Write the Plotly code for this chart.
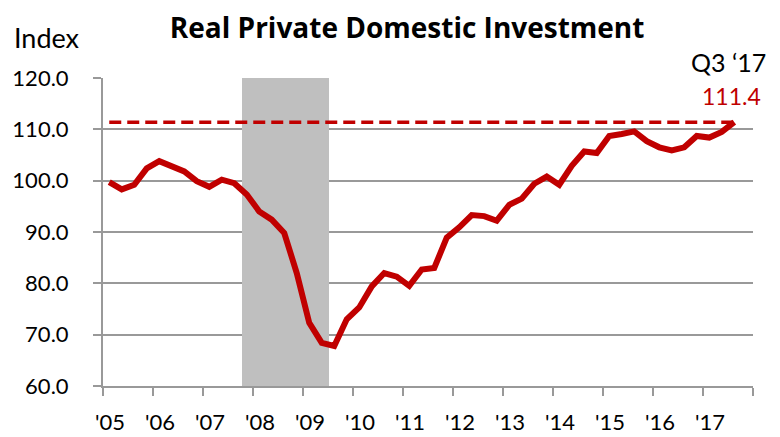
import plotly.graph_objects as go

# Quarterly index values, 2005 Q1 .. 2017 Q3
years = list(range(2005, 2018))
values = [
    99.7, 98.3, 99.2, 102.4,    # 2005
    103.8, 102.9, 101.8, 99.9,  # 2006
    98.8, 100.2, 99.5, 97.3,    # 2007
    94.0, 92.4, 89.8, 82.0,     # 2008
    72.3, 68.4, 67.8, 73.0,     # 2009
    75.3, 79.4, 82.0, 81.3,     # 2010
    79.5, 82.7, 83.0, 88.9,     # 2011
    90.9, 93.3, 93.1, 92.2,     # 2012
    95.3, 96.5, 99.4, 100.8,    # 2013
    99.2, 102.9, 105.7, 105.4,  # 2014
    108.7, 109.1, 109.6, 107.7, # 2015
    106.5, 105.9, 106.5, 108.7, # 2016
    108.4, 109.5, 111.4,        # 2017
]
quarters = [(y, q) for y in years for q in range(1, 5)][: len(values)]
x_pos = [y + (q - 0.5) / 4 for y, q in quarters]

recession = (2007.78, 2009.52)
tick_years = list(range(2005, 2019))
tick_text = ["'" + str(y)[2:] for y in years] + [""]
y_ticks = [60, 70, 80, 90, 100, 110, 120]

latest_label = "Q3 \u201817"
latest_value = values[-1]

RED = "#C00000"
GRID = "#999999"
FONT = "Lato"

fig = go.Figure()

fig.add_shape(type="rect", xref="x", yref="y",
              x0=recession[0], x1=recession[1], y0=60, y1=120,
              fillcolor="#BFBFBF", line_width=0, layer="between")

fig.add_trace(go.Scatter(
    x=[x_pos[0], x_pos[-1]], y=[latest_value, latest_value],
    mode="lines", line=dict(color=RED, width=3.5, dash="12px,6px"),
    hoverinfo="skip", showlegend=False))

fig.add_trace(go.Scatter(
    x=x_pos, y=values, mode="lines",
    line=dict(color=RED, width=6), showlegend=False))

# The page body has an 8px margin, so the figure is sized 8px smaller.
fig.update_layout(
    width=772, height=429,
    margin=dict(l=95, r=27, t=70, b=51, autoexpand=False),
    paper_bgcolor="white", plot_bgcolor="white",
    font=dict(family=FONT, size=22, color="#000000"),
    title=dict(text="<b>Real Private Domestic Investment</b>",
               x=0.517, xanchor="center", y=0.953, yanchor="middle",
               font=dict(family="Open Sans", size=28, color="#000000")),
    showlegend=False,
)

fig.update_xaxes(
    range=[2005, 2018], tickmode="array", tickvals=tick_years, ticktext=tick_text,
    ticks="outside", ticklen=8, tickwidth=2, tickcolor=GRID,
    showline=True, linecolor=GRID, linewidth=2,
    showgrid=False, zeroline=False, ticklabelshift=7, ticklabelstandoff=8,
    tickfont=dict(family=FONT, size=22, color="#000000"),
    automargin=False,
)
fig.update_yaxes(
    range=[60, 120], tickmode="array", tickvals=y_ticks, tickformat=".1f",
    ticks="outside", ticklen=8, tickwidth=2, tickcolor=GRID,
    showline=True, linecolor=GRID, linewidth=2,
    showgrid=True, gridcolor=GRID, gridwidth=2, zeroline=False,
    ticklabelstandoff=20,
    tickfont=dict(family=FONT, size=22, color="#000000"),
    automargin=False,
)

fig.add_annotation(text="Index", xref="paper", yref="paper",
                   x=-0.14, y=1.132, xanchor="left", yanchor="middle",
                   showarrow=False, font=dict(family=FONT, size=27, color="#000000"))
fig.add_annotation(text=latest_label, xref="paper", yref="paper",
                   x=1.023, y=1.052, xanchor="right", yanchor="middle",
                   showarrow=False, font=dict(family=FONT, size=25, color="#000000"))
fig.add_annotation(text=f"{latest_value:.1f}", xref="paper", yref="paper",
                   x=1.015, y=0.942, xanchor="right", yanchor="middle",
                   showarrow=False, font=dict(family=FONT, size=23, color=RED))

fig.write_html("out.html")
